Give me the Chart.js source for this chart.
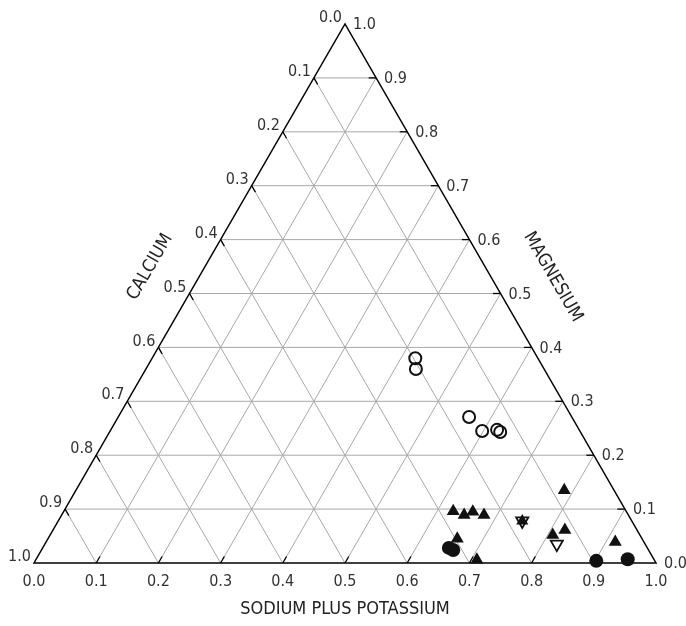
<!DOCTYPE html>
<html>
<head>
<meta charset="utf-8">
<script src="https://cdn.jsdelivr.net/npm/chart.js@4.4.0/dist/chart.umd.min.js"></script>
<style>
  html, body { margin: 0; background: #fff; }
  #wrap { width: 686px; height: 626px; }
</style>
</head>
<body>
<div id="wrap"><canvas id="ternary"></canvas></div>
<script>
// fractions of sodium plus potassium and magnesium; calcium is what is left
var openCircleNa = [0.423, 0.434, 0.564, 0.598, 0.621, 0.628];
var openCircleMg = [0.380, 0.360, 0.271, 0.245, 0.247, 0.243];
var triangleNa = [0.785, 0.626, 0.647, 0.658, 0.679, 0.658, 0.709, 0.808, 0.823, 0.915];
var triangleMg = [0.135, 0.096, 0.089, 0.095, 0.089, 0.045, 0.006, 0.052, 0.061, 0.039];
var circleNa = [0.653, 0.662, 0.902, 0.951];
var circleMg = [0.028, 0.024, 0.004, 0.007];
var downTriangleNa = [0.823, 0.746];
var downTriangleMg = [0.035, 0.078];
var starNa = [0.746];
var starMg = [0.078];
var tickLabels = ['0.0', '0.1', '0.2', '0.3', '0.4', '0.5', '0.6', '0.7', '0.8', '0.9', '1.0'];

var H = Math.sqrt(3) / 2;
var FONT = '"Liberation Sans Narrow", "DejaVu Sans Condensed", sans-serif';

function toPoints(na, mg) {
    return na.map(function (n, i) {
        return { x: n + mg[i] / 2, y: mg[i] * H };
    });
}

// triangle frame, grid, ticks and labels
var ternaryGrid = {
    id: 'ternaryGrid',
    beforeDatasetsDraw: function (chart) {
        var ctx = chart.ctx;
        var xs = chart.scales.x, ys = chart.scales.y;
        function px(na, mg) {
            return [xs.getPixelForValue(na + mg / 2), ys.getPixelForValue(mg * H)];
        }
        function line(a, b) {
            ctx.beginPath();
            ctx.moveTo(a[0], a[1]);
            ctx.lineTo(b[0], b[1]);
            ctx.stroke();
        }
        ctx.save();
        ctx.strokeStyle = '#a8a8a8';
        ctx.lineWidth = 1;
        for (var i = 1; i < 10; i++) {
            var v = i / 10;
            line(px(v, 0), px(v, 1 - v));       // constant sodium
            line(px(0, v), px(1 - v, v));       // constant magnesium
            line(px(0, 1 - v), px(1 - v, 0));   // constant calcium
        }
        // ticks
        ctx.strokeStyle = '#000';
        ctx.lineWidth = 1.3;
        var t = 0.012;
        for (var i = 1; i < 10; i++) {
            var v = i / 10;
            line(px(v, 0), px(v, t));
            line(px(1 - v, v), px(1 - v - t, v));
            line(px(0, v), px(t, v - t));
        }
        // frame
        ctx.lineWidth = 1.5;
        ctx.beginPath();
        var a = px(0, 0), b = px(1, 0), c = px(0, 1);
        ctx.moveTo(a[0], a[1]);
        ctx.lineTo(b[0], b[1]);
        ctx.lineTo(c[0], c[1]);
        ctx.closePath();
        ctx.stroke();

        // tick labels
        ctx.fillStyle = '#333';
        ctx.font = '16px ' + FONT;
        ctx.textBaseline = 'middle';
        for (var i = 0; i <= 10; i++) {
            var v = i / 10;
            var p = px(v, 0);
            ctx.textAlign = 'center';
            ctx.fillText(tickLabels[i], p[0], p[1] + 19);
            p = px(1 - v, v);
            ctx.textAlign = 'left';
            ctx.fillText(tickLabels[i], p[0] + 8, p[1] + 1);
            p = px(0, 1 - v);
            ctx.textAlign = 'right';
            ctx.fillText(tickLabels[i], p[0] - 3, p[1] - 6);
        }

        // axis titles
        ctx.fillStyle = '#222';
        ctx.font = '18px ' + FONT;
        ctx.textAlign = 'center';
        ctx.fillText('SODIUM PLUS POTASSIUM', (a[0] + b[0]) / 2, a[1] + 46);
        ctx.save();
        ctx.translate(150, 267);
        ctx.rotate(-Math.PI / 3);
        ctx.fillText('CALCIUM', 0, 0);
        ctx.restore();
        ctx.save();
        ctx.translate(553, 277);
        ctx.rotate(Math.PI / 3);
        ctx.fillText('MAGNESIUM', 0, 0);
        ctx.restore();
        ctx.restore();
    }
};

var myChart = new Chart(
    document.getElementById('ternary'),
    config = {
        type: 'scatter',
        data: {
            datasets: [
                {
                    label: 'Open circles',
                    data: toPoints(openCircleNa, openCircleMg),
                    pointStyle: 'circle',
                    radius: 6,
                    borderWidth: 2,
                    borderColor: '#111',
                    backgroundColor: 'rgba(255,255,255,0)',
                },
                {
                    label: 'Triangles',
                    data: toPoints(triangleNa, triangleMg),
                    pointStyle: 'triangle',
                    radius: 7.5,
                    borderWidth: 0,
                    backgroundColor: '#111',
                },
                {
                    label: 'Circles',
                    data: toPoints(circleNa, circleMg),
                    pointStyle: 'circle',
                    radius: 7,
                    borderWidth: 0,
                    backgroundColor: '#111',
                },
                {
                    label: 'Star',
                    data: toPoints(starNa, starMg),
                    pointStyle: 'triangle',
                    radius: 7,
                    borderWidth: 0,
                    backgroundColor: '#111',
                },
                {
                    label: 'Inverted triangles',
                    data: toPoints(downTriangleNa, downTriangleMg),
                    pointStyle: 'triangle',
                    rotation: 180,
                    radius: 7,
                    borderWidth: 1.8,
                    borderColor: '#111',
                    backgroundColor: 'rgba(255,255,255,0)',
                },
            ]
        },
        options: {
            responsive: true,
            maintainAspectRatio: false,
            animation: false,
            clip: false,
            layout: {
                padding: { left: 34, right: 30, top: 24, bottom: 63 }
            },
            scales: {
                x: { type: 'linear', min: 0, max: 1, display: false },
                y: { type: 'linear', min: 0, max: H, display: false }
            },
            plugins: {
                legend: { display: false },
                tooltip: { enabled: false }
            }
        },
        plugins: [ternaryGrid]
    });
</script>
</body>
</html>
